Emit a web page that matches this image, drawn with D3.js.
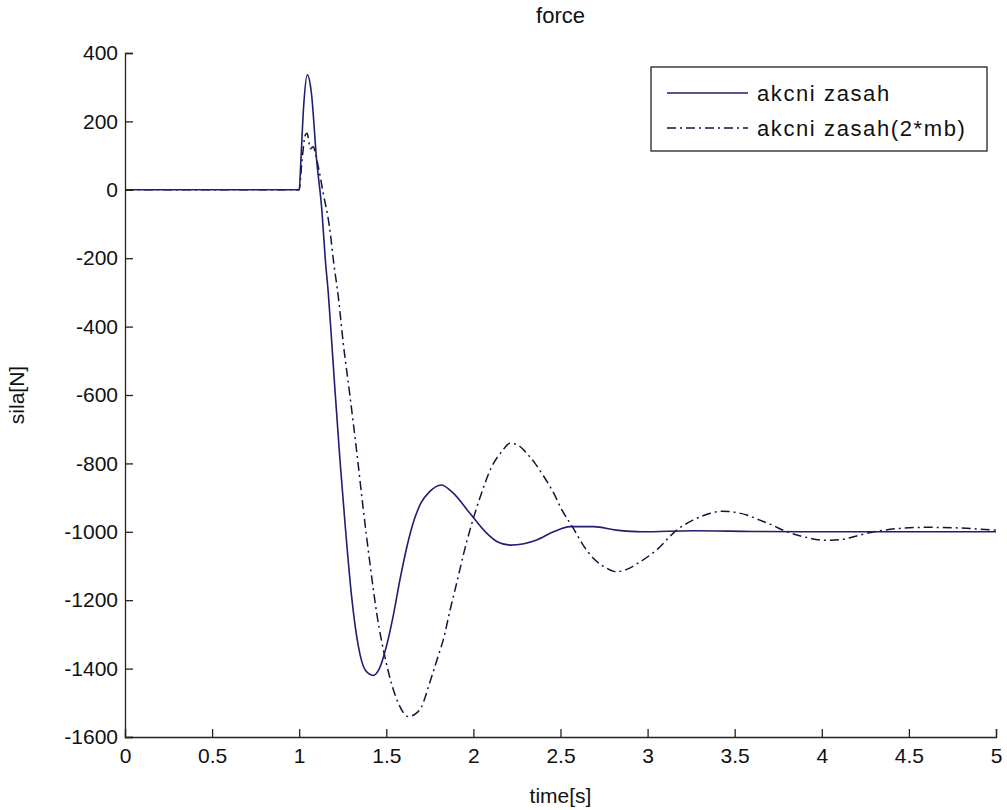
<!DOCTYPE html>
<html>
<head>
<meta charset="utf-8">
<script src="https://cdn.jsdelivr.net/npm/d3@7"></script>
<style>
  html, body { margin: 0; padding: 0; background: #fff; }
  svg { display: block; }
  text { font-family: "Liberation Sans", Arial, sans-serif; fill: #111; }
</style>
</head>
<body>
<svg id="chart" width="1007" height="810"></svg>
<script>
// Control force response, nominal vs. doubled mass mb
const seriesNames = ["akcni zasah", "akcni zasah(2*mb)"];

const timeNominal = [0, 1.0, 1.01, 1.025, 1.047, 1.07, 1.1, 1.13, 1.15, 1.167, 1.186, 1.206, 1.234, 1.263,
  1.3, 1.34, 1.38, 1.425, 1.46, 1.5, 1.54, 1.578, 1.62, 1.66, 1.70, 1.75, 1.815, 1.88, 1.98, 2.076, 2.14,
  2.21, 2.29, 2.363, 2.46, 2.555, 2.69, 2.82, 2.97, 3.26, 3.6, 4.0, 5.0];
const forceNominal = [0, 0, 90, 240, 336, 283, 87, -59, -205, -302, -440, -590, -790, -975,
  -1185, -1336, -1405, -1420, -1400, -1336, -1245, -1141, -1040, -965, -915, -882, -863, -885, -946, -1004, -1030,
  -1039, -1035, -1024, -1000, -985, -985, -995, -1000, -997, -999, -1000, -1000];

const timeHeavy = [0, 1.0, 1.015, 1.035, 1.045, 1.065, 1.08, 1.1, 1.138, 1.177, 1.196, 1.225, 1.253, 1.292,
  1.33, 1.368, 1.406, 1.445, 1.5, 1.569, 1.626, 1.66, 1.703, 1.75, 1.8, 1.827, 1.866, 1.913, 1.942,
  1.98, 2.04, 2.105, 2.162, 2.21, 2.26, 2.306, 2.354, 2.4, 2.459, 2.507, 2.574, 2.63, 2.69, 2.76,
  2.82, 2.88, 2.956, 3.05, 3.167, 3.26, 3.36, 3.42, 3.47, 3.57, 3.645, 3.7, 3.8, 3.9, 4.03, 4.12,
  4.2, 4.3, 4.45, 4.6, 4.75, 4.9, 5.0];
const forceHeavy = [0, 0, 80, 160, 165, 120, 126, 90, -10, -120, -205, -315, -449, -605,
  -765, -935, -1092, -1238, -1384, -1501, -1540, -1535, -1511, -1440, -1360, -1316, -1229, -1131, -1068,
  -995, -897, -810, -766, -741, -748, -770, -800, -835, -885, -935, -990, -1039, -1078, -1105,
  -1117, -1110, -1088, -1054, -995, -966, -946, -940, -941, -951, -966, -977, -1000, -1015, -1025, -1022,
  -1012, -1000, -990, -987, -988, -992, -995];

const xTicks = [0, 0.5, 1, 1.5, 2, 2.5, 3, 3.5, 4, 4.5, 5];
const yTicks = [400, 200, 0, -200, -400, -600, -800, -1000, -1200, -1400, -1600];

const titleText = "force";
const xLabel = "time[s]";
const yLabel = "sila[N]";

const svg = d3.select("#chart");
const plot = { left: 125, right: 996, top: 53, bottom: 737 };

const x = d3.scaleLinear().domain([0, 5]).range([plot.left, plot.right]);
const y = d3.scaleLinear().domain([-1600, 400]).range([plot.bottom, plot.top]);

const lineColor = "#1e1e72";
const heavyColor = "#141440";
const line = d3.line()
  .x(d => x(d[0]))
  .y(d => y(d[1]))
  .curve(d3.curveMonotoneX);

const nominal = timeNominal.map((t, i) => [t, forceNominal[i]]);
const heavy = timeHeavy.map((t, i) => [t, forceHeavy[i]]);

// series
svg.append("path")
  .datum(heavy)
  .attr("d", line)
  .attr("fill", "none")
  .attr("stroke", heavyColor)
  .attr("stroke-width", 1.5)
  .attr("stroke-dasharray", "9,4,2,4");

svg.append("path")
  .datum(nominal)
  .attr("d", line)
  .attr("fill", "none")
  .attr("stroke", lineColor)
  .attr("stroke-width", 1.6);

// axes (left and bottom only, ticks pointing inward)
const axisFont = 21;
const gx = svg.append("g")
  .attr("transform", `translate(0,${plot.bottom})`)
  .call(d3.axisBottom(x).tickValues(xTicks).tickSize(-8).tickPadding(10)
    .tickFormat(d => String(d)));
const gy = svg.append("g")
  .attr("transform", `translate(${plot.left},0)`)
  .call(d3.axisLeft(y).tickValues(yTicks).tickSize(-8).tickPadding(7)
    .tickFormat(d => String(d)));

[gx, gy].forEach(g => {
  g.select(".domain").attr("stroke", "#222").attr("stroke-width", 1.3);
  g.selectAll(".tick line").attr("stroke", "#222").attr("stroke-width", 1.3);
  g.selectAll(".tick text")
    .attr("font-family", "Liberation Sans, Arial, sans-serif")
    .attr("font-size", axisFont)
    .attr("fill", "#111");
});
gx.selectAll(".tick text").attr("dy", "0.75em");

// title and axis labels
svg.append("text")
  .attr("x", (plot.left + plot.right) / 2)
  .attr("y", 23)
  .attr("text-anchor", "middle")
  .attr("font-size", 22)
  .text(titleText);

svg.append("text")
  .attr("x", (plot.left + plot.right) / 2)
  .attr("y", 803)
  .attr("text-anchor", "middle")
  .attr("font-size", 21)
  .text(xLabel);

svg.append("text")
  .attr("transform", `translate(24,${(plot.top + plot.bottom) / 2}) rotate(-90)`)
  .attr("text-anchor", "middle")
  .attr("font-size", 21)
  .text(yLabel);

// legend
const legend = svg.append("g");
legend.append("rect")
  .attr("x", 651).attr("y", 67)
  .attr("width", 336).attr("height", 84)
  .attr("fill", "#fff")
  .attr("stroke", "#222")
  .attr("stroke-width", 1.3);

const legendRows = [
  { name: seriesNames[0], dash: null, color: lineColor, cy: 93 },
  { name: seriesNames[1], dash: "9,4,2,4", color: heavyColor, cy: 128 }
];
legendRows.forEach(r => {
  legend.append("line")
    .attr("x1", 667).attr("x2", 748)
    .attr("y1", r.cy).attr("y2", r.cy)
    .attr("stroke", r.color)
    .attr("stroke-width", 1.6)
    .attr("stroke-dasharray", r.dash);
  legend.append("text")
    .attr("x", 757).attr("y", r.cy)
    .attr("dy", "0.35em")
    .attr("font-size", 22)
    .attr("letter-spacing", 1.6)
    .text(r.name);
});
</script>
</body>
</html>
